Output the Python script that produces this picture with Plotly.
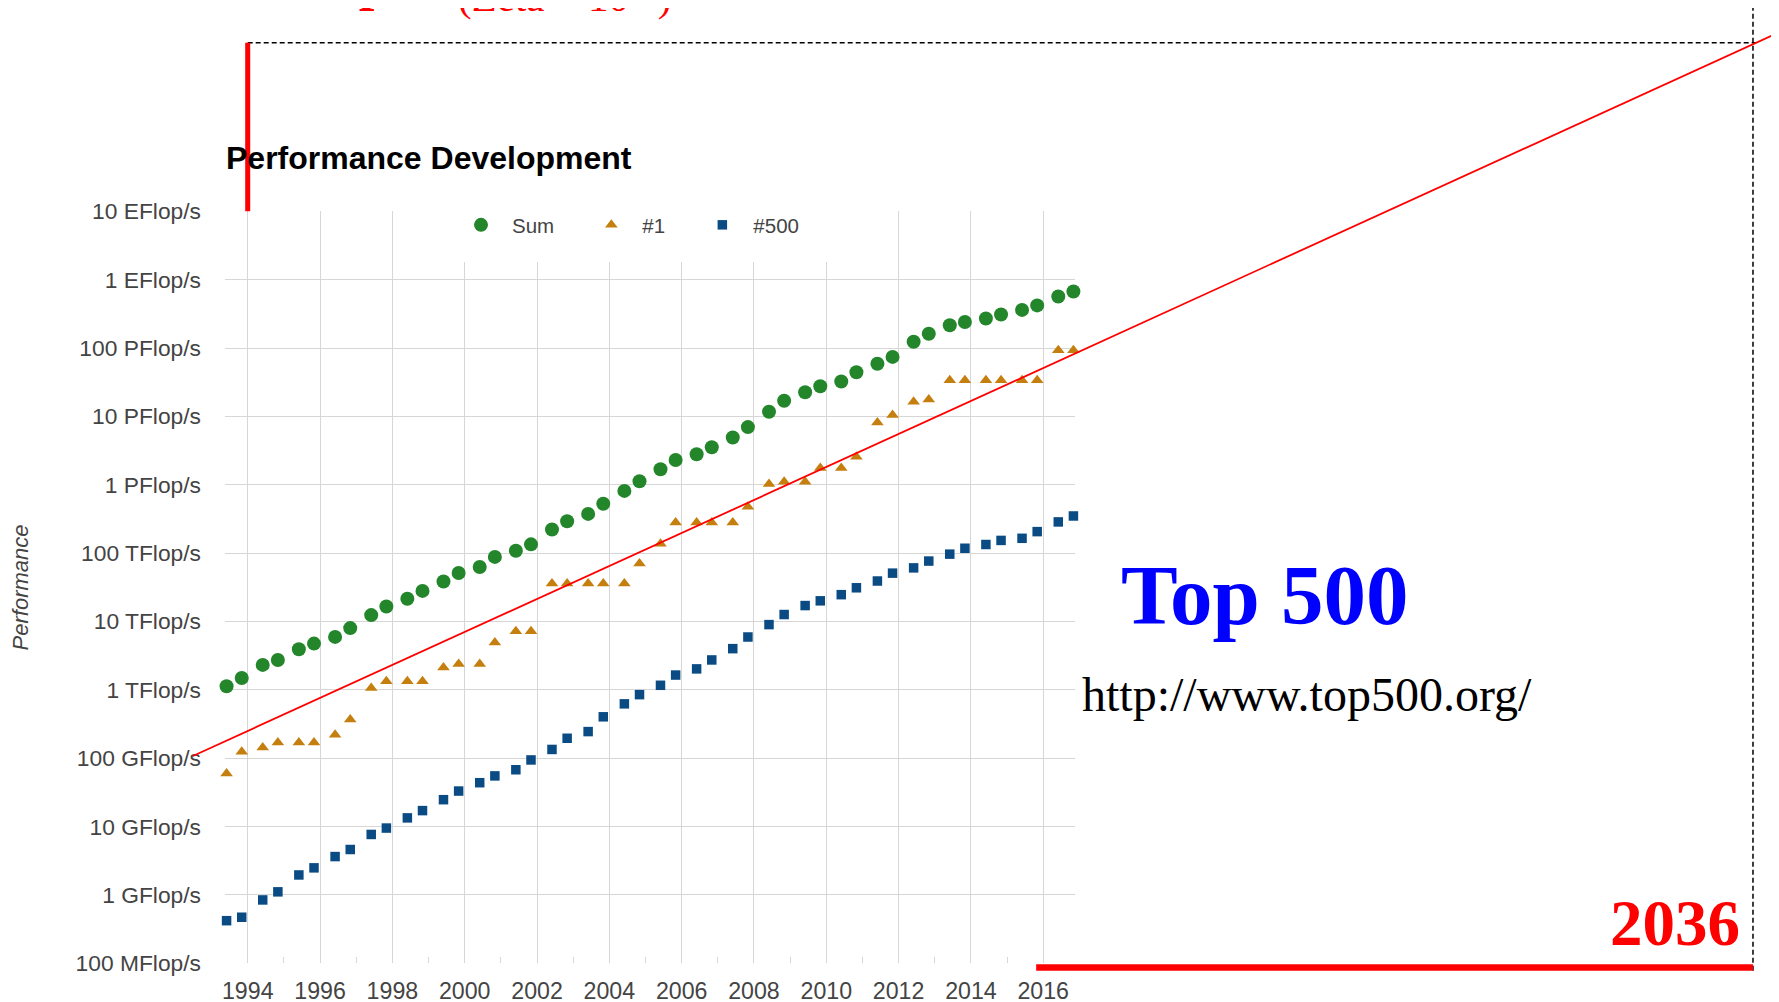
import plotly.graph_objects as go

# ---------------- data (Top500 lists, GFlop/s) ----------------
list_dates = [
    "1993-06-01", "1993-11-01", "1994-06-01", "1994-11-01", "1995-06-01", "1995-11-01",
    "1996-06-01", "1996-11-01", "1997-06-01", "1997-11-01", "1998-06-01", "1998-11-01",
    "1999-06-01", "1999-11-01", "2000-06-01", "2000-11-01", "2001-06-01", "2001-11-01",
    "2002-06-01", "2002-11-01", "2003-06-01", "2003-11-01", "2004-06-01", "2004-11-01",
    "2005-06-01", "2005-11-01", "2006-06-01", "2006-11-01", "2007-06-01", "2007-11-01",
    "2008-06-01", "2008-11-01", "2009-06-01", "2009-11-01", "2010-06-01", "2010-11-01",
    "2011-06-01", "2011-11-01", "2012-06-01", "2012-11-01", "2013-06-01", "2013-11-01",
    "2014-06-01", "2014-11-01", "2015-06-01", "2015-11-01", "2016-06-01", "2016-11-01",
]

sum_gflops = [
    1128, 1493, 2317, 2732, 3927, 4749,
    5951, 8000, 12400, 16600, 21500, 28000,
    38400, 51100, 62800, 88100, 108500, 134300,
    222000, 293000, 375000, 528000, 813000, 1127000,
    1690000, 2300000, 2791000, 3530000, 4920000, 6970000,
    11700000, 16900000, 22600000, 27600000, 32400000, 44200000,
    58900000, 74200000, 123400000, 162000000, 215000000, 240000000,
    270000000, 309000000, 361000000, 420000000, 566700000, 672000000,
]

no1_gflops = [
    59.7, 124, 143.4, 170.4, 170.4, 170.4,
    220.4, 368.2, 1068, 1338, 1338, 1338,
    2121, 2379, 2379, 4938, 7226, 7226,
    35860, 35860, 35860, 35860, 35860, 70720,
    136800, 280600, 280600, 280600, 280600, 478200,
    1026000, 1105000, 1105000, 1759000, 1759000, 2566000,
    8162000, 10510000, 16320000, 17590000, 33860000, 33860000,
    33860000, 33860000, 33860000, 33860000, 93010000, 93010000,
]

no500_gflops = [
    0.42, 0.472, 0.845, 1.11, 1.96, 2.49,
    3.64, 4.62, 7.67, 9.51, 13.4, 17.12,
    24.73, 33.08, 43.82, 55.1, 67.78, 94.3,
    134.3, 195.8, 245.1, 403.4, 624, 850.6,
    1166, 1646, 2026, 2737, 4005, 5929,
    9000, 12640, 17090, 20050, 24670, 31120,
    39090, 50940, 60820, 76500, 96620, 117800,
    133700, 153400, 164700, 206300, 286100, 349300,
]

series_names = ["Sum", "#1", "#500"]

y_tick_vals = [0.1, 1, 10, 100, 1e3, 1e4, 1e5, 1e6, 1e7, 1e8, 1e9, 1e10]
y_tick_text = ["100 MFlop/s", "1 GFlop/s", "10 GFlop/s", "100 GFlop/s",
               "1 TFlop/s", "10 TFlop/s", "100 TFlop/s", "1 PFlop/s",
               "10 PFlop/s", "100 PFlop/s", "1 EFlop/s", "10 EFlop/s"]

# extrapolation overlay (years, GFlop/s)
trend_years = [1992.47, 2036.53]
trend_gflops = [107.7, 3.73e12]
zetta_year = 2036
start_year = 1994
now_year = 2016
zetta_level = 2.92e12
ten_eflops = 1e10
floor_level = 0.0867
floor_bottom = 0.078
top_beyond = 2e13

# page offset (default body margin) and figure size
OFF = 8
W, H = 1779 - OFF, 1002 - OFF
px = lambda v: (v - OFF) / W
py = lambda v: 1 - (v - OFF) / H

C_SUM = "#23862b"
C_NO1 = "#c57f0e"
C_500 = "#0a4b84"
GRID = "#d6d6d6"
LBL = "#444444"
SANS = "Liberation Sans, Arial, sans-serif"
SERIF = "Liberation Serif, Times New Roman, serif"
PAD = "\u00a0\u00a0\u00a0\u2009"
LEG_BORDER = 17

fig = go.Figure()

fig.add_trace(go.Scatter(x=list_dates, y=sum_gflops, name=series_names[0] + PAD,
                         mode="markers", marker=dict(symbol="circle", size=14, color=C_SUM),
                         cliponaxis=False))
fig.add_trace(go.Scatter(x=list_dates, y=no1_gflops, name=series_names[1] + PAD,
                         mode="markers", marker=dict(symbol="triangle-up", size=11, color=C_NO1),
                         cliponaxis=False))
fig.add_trace(go.Scatter(x=list_dates, y=no500_gflops, name=series_names[2] + PAD,
                         mode="markers", marker=dict(symbol="square", size=9.5, color=C_500),
                         cliponaxis=False))

# overlay: extrapolation to 2036 (full-figure invisible axes)
ov = dict(xaxis="x2", yaxis="y2", mode="lines", showlegend=False, hoverinfo="skip")
fig.add_trace(go.Scatter(x=[start_year, zetta_year + 0.08], y=[zetta_level, zetta_level],
                         line=dict(color="black", width=1.5, dash="5px,3px"), **ov))
fig.add_trace(go.Scatter(x=[zetta_year, zetta_year], y=[floor_bottom, top_beyond],
                         line=dict(color="black", width=1.5, dash="5px,3px"), **ov))
fig.add_trace(go.Scatter(x=[start_year, start_year], y=[zetta_level, ten_eflops],
                         line=dict(color="#ff0000", width=5), **ov))
fig.add_trace(go.Scatter(x=[now_year, zetta_year], y=[floor_level, floor_level],
                         line=dict(color="#ff0000", width=6.5), **ov))
fig.add_trace(go.Scatter(x=trend_years, y=trend_gflops,
                         line=dict(color="#ff0000", width=1.8), **ov))

fig.update_layout(
    template="none",
    width=W, height=H,
    margin=dict(l=0, r=0, t=0, b=0, pad=0, autoexpand=False),
    paper_bgcolor="white", plot_bgcolor="rgba(0,0,0,0)",
    font=dict(family=SANS, color=LBL),
    xaxis=dict(
        type="date", domain=[px(225), px(1075)],
        range=["1993-05-16", "2016-11-17"],
        tick0="1994-01-01", dtick="M24", tickformat="%Y",
        showgrid=True, gridcolor=GRID, gridwidth=1.3,
        zeroline=False, showline=False, ticks="", automargin=False,
        tickfont=dict(size=23.2, color=LBL, family=SANS),
        ticklabelstandoff=11,
        minor=dict(tick0="1993-01-01", dtick="M12", ticks="inside", ticklen=6,
                   tickcolor=GRID, tickwidth=1.3, showgrid=False),
        fixedrange=True,
    ),
    yaxis=dict(
        type="log", domain=[py(963.3), py(211.3)], range=[-1, 10],
        tickvals=y_tick_vals, ticktext=y_tick_text,
        showgrid=True, gridcolor=GRID, gridwidth=1.3,
        zeroline=False, showline=False, ticks="", automargin=False,
        tickfont=dict(size=22.8, color=LBL, family=SANS),
        ticklabelstandoff=23,
        fixedrange=True,
    ),
    xaxis2=dict(domain=[0, 1], anchor="y2", range=[1987.312, 2036.726],
                visible=False, fixedrange=True, automargin=False),
    yaxis2=dict(domain=[0, 1], anchor="x2", type="log", range=[-1.566, 12.974],
                visible=False, fixedrange=True, automargin=False),
    title=dict(text="<b>Performance Development</b>", x=px(226), xanchor="left",
               xref="paper", y=py(158), yanchor="middle", yref="paper",
               font=dict(family=SANS, size=32, color="black"), automargin=False),
    legend=dict(orientation="h", x=px(450 - LEG_BORDER), xanchor="left",
                y=py(205 - LEG_BORDER), yanchor="top",
                bgcolor="white", bordercolor="white", borderwidth=LEG_BORDER,
                font=dict(family=SANS, size=20.5, color=LBL),
                itemwidth=52, itemsizing="trace"),
    showlegend=True,
    hovermode=False,
)

ann = []
ann.append(dict(text="<i>Performance</i>", x=px(20.4), y=py(587), textangle=-90,
                font=dict(family=SANS, size=22, color=LBL)))
ann.append(dict(text="<b>Top 500</b>", x=px(1264), y=py(594.6),
                font=dict(family=SERIF, size=85, color="#0000ff")))
ann.append(dict(text="http://www.top500.org/", x=px(1307), y=py(694),
                font=dict(family=SERIF, size=48, color="black")))
ann.append(dict(text="<b>2036</b>", x=px(1675), y=py(923.4),
                font=dict(family=SERIF, size=65, color="#ff0000")))
ann.append(dict(text="(Zeta = 10<sup>21</sup>)", x=px(456), xanchor="left", y=py(-6.5),
                font=dict(family=SERIF, size=41, color="#ff0000")))
ann.append(dict(text="<b>Zettaflop</b>", x=px(392), xanchor="right", y=py(-20),
                font=dict(family=SERIF, size=56, color="#ff0000")))
for a in ann:
    a.update(xref="paper", yref="paper", showarrow=False)
    a.setdefault("xanchor", "center")
    a.setdefault("yanchor", "middle")
fig.update_layout(annotations=ann)

fig.write_html("out.html")
